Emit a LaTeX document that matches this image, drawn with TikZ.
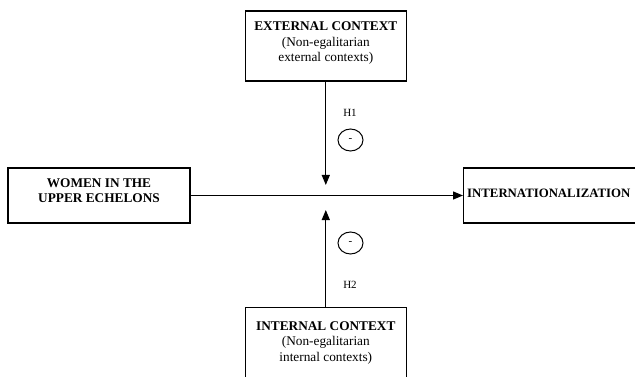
\documentclass[tikz,border=0pt]{standalone}
\usepackage{fontspec}
\setmainfont{Liberation Serif}
\usetikzlibrary{arrows.meta,shapes.geometric}
\tikzset{
  box/.style={draw, line width=1.2pt, rectangle, minimum width=#1, minimum height=55pt, inner sep=0pt},
  box/.default=182pt,
  txt/.style={align=center, inner sep=0pt, font=\fontsize{13.3}{15.5}\selectfont},
  conn/.style={line width=1.2pt, -{Triangle[length=10pt,width=8pt]}},
  sign/.style={draw, line width=1pt, ellipse, minimum width=25pt, minimum height=22pt, inner sep=0pt, font=\fontsize{11}{12}\selectfont},
  hyp/.style={inner sep=0pt, font=\fontsize{11}{12}\selectfont}
}
\begin{document}
\begin{tikzpicture}[x=1pt,y=-1pt]
\useasboundingbox (0,0) rectangle (635,377);
\clip (0,0) rectangle (635,377);
% boxes
\node[box=161pt, minimum height=70pt] (ext) at (325.8,46) {};
\node[box=182pt] (women) at (99,195.5) {};
\node[box=182pt, anchor=west] (intl) at (463,195.5) {};
\node[box=161pt, minimum height=72pt, anchor=north] (int) at (325.8,307) {};
% texts (anchor base = baseline of last line)
\node[txt, anchor=base] (extt) at (325.8,62) {\textbf{EXTERNAL CONTEXT}\\(Non-egalitarian\\external contexts)};
\node[txt, anchor=base] (woment) at (99,203) {\textbf{WOMEN IN THE}\\\textbf{UPPER ECHELONS}};
\node[txt, anchor=base west, font=\fontsize{12.8}{15.5}\selectfont] (intlt) at (467,198) {\textbf{INTERNATIONALIZATION}};
\node[txt, anchor=base] (intt) at (325.8,361) {\textbf{INTERNAL CONTEXT}\\(Non-egalitarian\\internal contexts)};
% junction coordinates
\coordinate (jtop) at (325.8,185);
\coordinate (jbot) at (325.8,210);
% connectors
\draw[conn] (women.east) -- (intl.west);
\draw[conn] (ext.south) -- (jtop);
\draw[conn] (int.north) -- (jbot);
% signs and hypotheses
\node[sign] (s1) at (350.5,140) {-};
\node[sign] (s2) at (350.5,243) {-};
\node[hyp, anchor=base] (h1) at (350,117) {H1};
\node[hyp, anchor=base] (h2) at (350,288) {H2};
\end{tikzpicture}
\end{document}
